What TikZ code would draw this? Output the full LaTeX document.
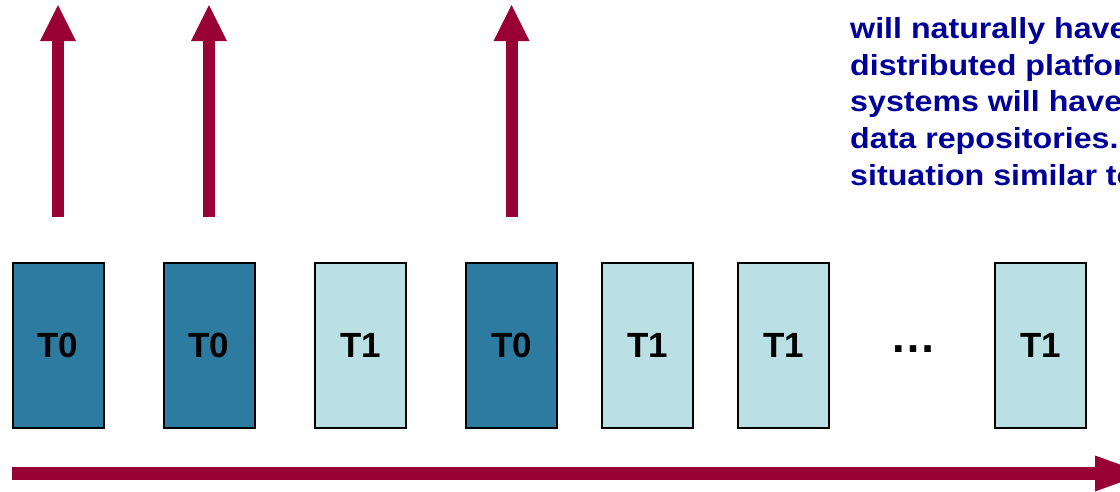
\documentclass[tikz,border=0pt]{standalone}
\usepackage{fontspec}
\setmainfont{Liberation Sans}
\newfontfamily\notefont[FakeStretch=1.11]{Liberation Sans}
\usetikzlibrary{arrows.meta}
\definecolor{arrowred}{HTML}{990033}
\definecolor{textblue}{HTML}{000099}
\definecolor{darkbox}{HTML}{2E7BA1}
\definecolor{lightbox}{HTML}{BAE0E3}
\tikzset{
  tbox/.style={draw=black, line width=2pt, rectangle, minimum width=91pt,
    minimum height=165pt, inner sep=0pt,
    font=\fontsize{35}{40}\selectfont\bfseries},
  tdark/.style={tbox, fill=darkbox},
  tlight/.style={tbox, fill=lightbox},
  uparrow/.style={draw=arrowred, line width=12pt,
    -{Triangle[width=36pt,length=36pt,line width=0pt]}},
  timearrow/.style={draw=arrowred, line width=13pt,
    -{Triangle[width=36pt,length=50pt,line width=0pt]}},
  note/.style={text=textblue, anchor=base west, inner sep=0pt,
    font=\notefont\fontsize{29}{36}\selectfont\bfseries}
}
\begin{document}
\begin{tikzpicture}[x=1pt,y=-1pt]
\useasboundingbox (0,0) rectangle (1120,491);
\clip (0,0) rectangle (1120,491);
\fill[white] (0,0) rectangle (1120,491);
% boxes
\node[tdark]  (b1) at (58,345)   {T0};
\node[tdark]  (b2) at (209,345)  {T0};
\node[tlight] (b3) at (360.5,345) {T1};
\node[tdark]  (b4) at (511.5,345) {T0};
\node[tlight] (b5) at (647.5,345) {T1};
\node[tlight] (b6) at (783.5,345) {T1};
\node[font=\fontsize{46}{50}\selectfont\bfseries, anchor=base, inner sep=0pt] (dots) at (913,352) {…};
\node[tlight] (b7) at (1040.5,345) {T1};
% up arrows
\coordinate (a1s) at (58,217);   \coordinate (a1e) at (58,5);
\coordinate (a2s) at (209,217);  \coordinate (a2e) at (209,5);
\coordinate (a3s) at (511.5,217);\coordinate (a3e) at (511.5,5);
\draw[uparrow] (a1s) -- (a1e);
\draw[uparrow] (a2s) -- (a2e);
\draw[uparrow] (a3s) -- (a3e);
% time arrow
\coordinate (ts) at (12,473.5);
\coordinate (te) at (1145,473.5);
\draw[timearrow] (ts) -- (te);
% note text (cut at the right edge, as in the reference)
\node[note] (n1) at (850,38.3)  {will naturally have};
\node[note] (n2) at (850,75)    {distributed platform};
\node[note] (n3) at (850,111.7) {systems will have};
\node[note] (n4) at (850,148.4) {data repositories.};
\node[note] (n5) at (850,185)   {situation similar to};
\end{tikzpicture}
\end{document}
